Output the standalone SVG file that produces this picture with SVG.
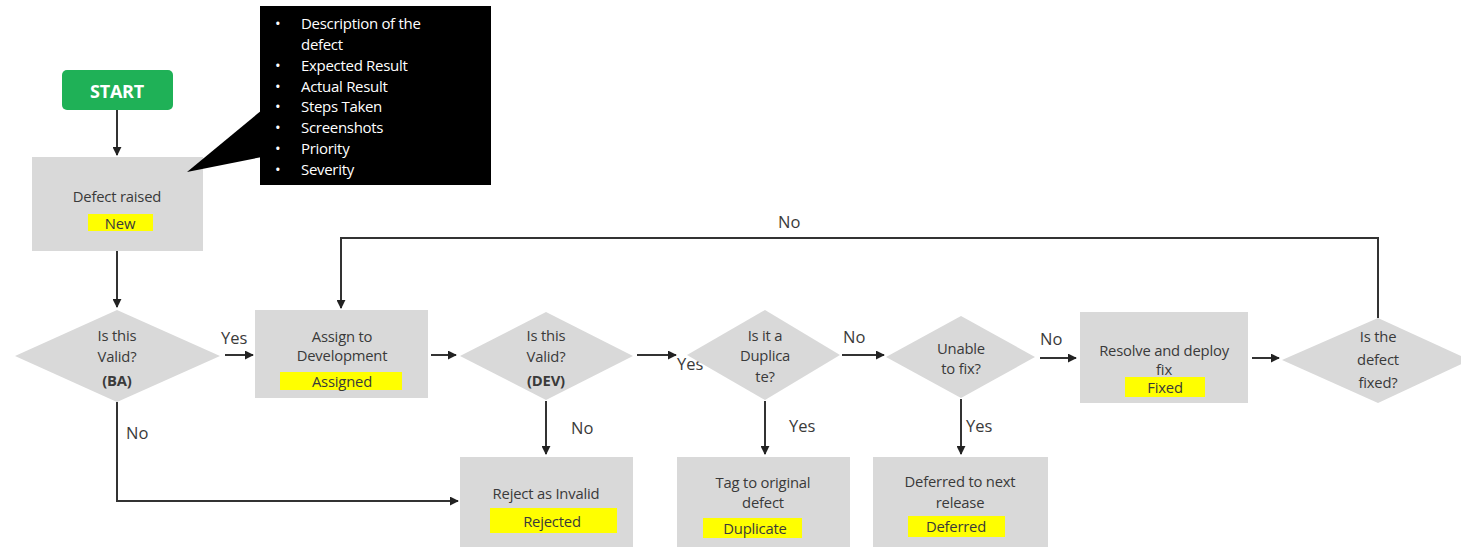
<svg xmlns="http://www.w3.org/2000/svg" width="1461" height="547" viewBox="0 0 1461 547">
  <style>
    .box { fill: #d9d9d9; }
    .dia { fill: #d9d9d9; }
    .tag { fill: #ffff00; }
    .t { font-family: "Open Sans", "Liberation Sans", sans-serif; font-size: 14.8px; fill: #3a3a3a; text-anchor: middle; dominant-baseline: central; letter-spacing: -0.2px; }
    .b { font-weight: bold; }
    .lbl { font-family: "Open Sans", "Liberation Sans", sans-serif; font-size: 16.5px; fill: #3a3a3a; dominant-baseline: central; }
    .note { font-family: "Open Sans", "Liberation Sans", sans-serif; font-size: 15px; fill: #ffffff; dominant-baseline: central; letter-spacing: -0.3px; }
    .ln { fill: none; stroke: #333333; stroke-width: 2; }
    .arr { fill: none; stroke: #333333; stroke-width: 2; marker-end: url(#ah); }
  </style>
  <defs>
    <marker id="ah" viewBox="0 0 10 10" refX="9" refY="5" markerWidth="9" markerHeight="9" markerUnits="userSpaceOnUse" orient="auto">
      <path d="M0,0 L10,5 L0,10 Z" fill="#222222"/>
    </marker>
  </defs>

  <rect width="1461" height="547" fill="#ffffff"/>

  <!-- connectors -->
  <g id="connectors">
    <line class="arr" x1="117" y1="110" x2="117" y2="155"/>
    <line class="arr" x1="117" y1="251" x2="117" y2="307"/>
    <line class="arr" x1="225" y1="355" x2="253" y2="355"/>
    <line class="arr" x1="431" y1="355" x2="456" y2="355"/>
    <line class="arr" x1="637" y1="355" x2="676" y2="355"/>
    <line class="arr" x1="842" y1="355" x2="884" y2="355"/>
    <line class="arr" x1="1040" y1="358" x2="1076" y2="358"/>
    <line class="arr" x1="1252" y1="358" x2="1279" y2="358"/>
    <polyline class="arr" points="1378,318 1378,238 341,238 341,308"/>
    <polyline class="arr" points="117,402 117,501 458,501"/>
    <line class="arr" x1="546" y1="401" x2="546" y2="454"/>
    <line class="arr" x1="765" y1="401" x2="765" y2="454"/>
    <line class="arr" x1="961" y1="399" x2="961" y2="454"/>
    <text class="lbl" x="221" y="337">Yes</text>
    <text class="lbl" x="677" y="363">Yes</text>
    <text class="lbl" x="843" y="336">No</text>
    <text class="lbl" x="1040" y="338">No</text>
    <text class="lbl" x="778" y="221">No</text>
    <text class="lbl" x="126" y="432">No</text>
    <text class="lbl" x="571" y="427">No</text>
    <text class="lbl" x="789" y="425">Yes</text>
    <text class="lbl" x="966" y="425">Yes</text>
  </g>

  <!-- start -->
  <g id="start">
    <rect x="62" y="70" width="111" height="40" rx="5" fill="#1fb157"/>
    <text class="t b" x="117" y="91" style="fill:#ffffff;font-size:18px">START</text>
  </g>

  <!-- defect raised -->
  <g id="raised">
    <rect class="box" x="32" y="157" width="171" height="94"/>
    <text class="t" x="117" y="196">Defect raised</text>
    <rect class="tag" x="88" y="214" width="65" height="17"/>
    <text class="t" x="120" y="223">New</text>
  </g>

  <!-- defect details callout -->
  <g id="details">
    <polygon points="262,110 187,172 262,157" fill="#000000"/>
    <rect x="260" y="6" width="231" height="179" fill="#000000"/>
    <g class="note">
      <text x="275" y="23">•</text><text x="301" y="23">Description of the</text>
      <text x="301" y="44">defect</text>
      <text x="275" y="65">•</text><text x="301" y="65">Expected Result</text>
      <text x="275" y="86">•</text><text x="301" y="86">Actual Result</text>
      <text x="275" y="106">•</text><text x="301" y="106">Steps Taken</text>
      <text x="275" y="127">•</text><text x="301" y="127">Screenshots</text>
      <text x="275" y="148">•</text><text x="301" y="148">Priority</text>
      <text x="275" y="169">•</text><text x="301" y="169">Severity</text>
    </g>
  </g>

  <!-- BA validity check -->
  <g id="valid-ba">
    <polygon class="dia" points="117,310 220,356 117,402 15,356"/>
    <text class="t" x="117" y="335">Is this</text>
    <text class="t" x="117" y="356">Valid?</text>
    <text class="t b" x="117" y="380">(BA)</text>
  </g>

  <!-- assign -->
  <g id="assign">
    <rect class="box" x="255" y="310" width="173" height="88"/>
    <text class="t" x="342" y="336">Assign to</text>
    <text class="t" x="342" y="355">Development</text>
    <rect class="tag" x="280" y="372" width="122" height="18"/>
    <text class="t" x="342" y="381">Assigned</text>
  </g>

  <!-- DEV validity check -->
  <g id="valid-dev">
    <polygon class="dia" points="546,312 633,356 546,400 460,356"/>
    <text class="t" x="546" y="335">Is this</text>
    <text class="t" x="546" y="356">Valid?</text>
    <text class="t b" x="546" y="380">(DEV)</text>
  </g>

  <!-- duplicate check -->
  <g id="duplicate-check">
    <polygon class="dia" points="765,310 840,355 765,400 687,355"/>
    <text class="t" x="765" y="335">Is it a</text>
    <text class="t" x="765" y="355">Duplica</text>
    <text class="t" x="765" y="376">te?</text>
  </g>

  <!-- unable to fix -->
  <g id="unable">
    <polygon class="dia" points="961,316 1035,357 961,398 886,357"/>
    <text class="t" x="961" y="348">Unable</text>
    <text class="t" x="961" y="368">to fix?</text>
  </g>

  <!-- resolve -->
  <g id="resolve">
    <rect class="box" x="1080" y="312" width="168" height="91"/>
    <text class="t" x="1164" y="350">Resolve and deploy</text>
    <text class="t" x="1164" y="369">fix</text>
    <rect class="tag" x="1125" y="377" width="80" height="20"/>
    <text class="t" x="1165" y="387">Fixed</text>
  </g>

  <!-- fixed check -->
  <g id="fixed-check">
    <polygon class="dia" points="1378,318 1470,360 1378,403 1282,360"/>
    <text class="t" x="1378" y="336">Is the</text>
    <text class="t" x="1378" y="359">defect</text>
    <text class="t" x="1378" y="382">fixed?</text>
  </g>

  <!-- reject -->
  <g id="reject">
    <rect class="box" x="460" y="457" width="173" height="90"/>
    <text class="t" x="546" y="493">Reject as Invalid</text>
    <rect class="tag" x="490" y="508" width="127" height="25"/>
    <text class="t" x="552" y="521">Rejected</text>
  </g>

  <!-- tag duplicate -->
  <g id="tag-dup">
    <rect class="box" x="677" y="457" width="173" height="90"/>
    <text class="t" x="763" y="482">Tag to original</text>
    <text class="t" x="763" y="502">defect</text>
    <rect class="tag" x="703" y="518" width="99" height="20"/>
    <text class="t" x="755" y="528">Duplicate</text>
  </g>

  <!-- deferred -->
  <g id="deferred">
    <rect class="box" x="873" y="457" width="175" height="90"/>
    <text class="t" x="960" y="481">Deferred to next</text>
    <text class="t" x="960" y="502">release</text>
    <rect class="tag" x="908" y="516" width="97" height="21"/>
    <text class="t" x="956" y="526">Deferred</text>
  </g>
</svg>
